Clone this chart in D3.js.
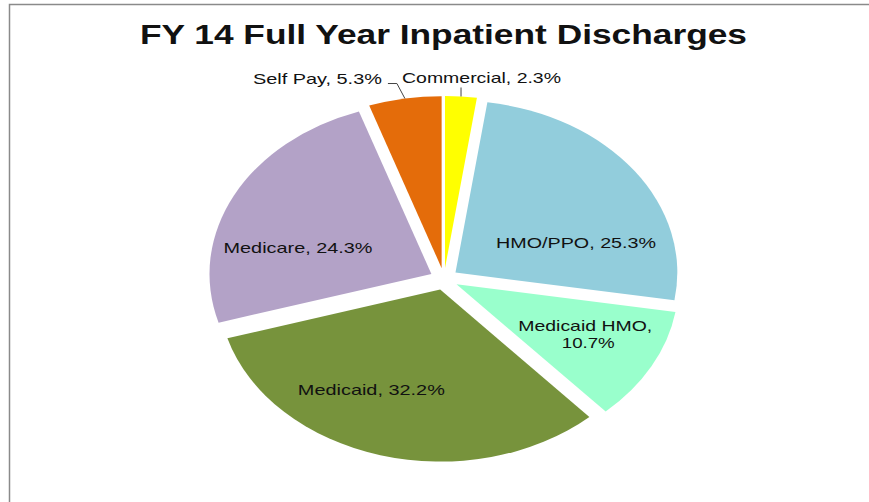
<!DOCTYPE html>
<html>
<head>
<meta charset="utf-8">
<script src="https://cdn.jsdelivr.net/npm/d3@7"></script>
<style>
  body { margin: 0; background: #fff; }
  text { font-family: "Liberation Sans", Arial, sans-serif; fill: #111; }
</style>
</head>
<body>
<svg id="chart" width="869" height="502"></svg>
<script>
// data
var categories = ["Commercial", "HMO/PPO", "Medicaid HMO", "Medicaid", "Medicare", "Self Pay"];
var shares = [2.3, 25.3, 10.7, 32.2, 24.3, 5.3];
var colors = ["#FFFF00", "#92CDDC", "#99FFCC", "#77933C", "#B3A2C7", "#E46C0A"];
var title = "FY 14 Full Year Inpatient Discharges";

// geometry (the picture is a round pie stretched sideways)
var cx = 444, cy = 279, R = 172, sx = 1.29, explode = 11;

// where excel put the labels: inside ones as a fraction of the slice angle / radius
var inside = {
    "HMO/PPO": {t: 0.706, f: 0.57, w: 160},
    "Medicaid HMO": {t: 0.455, f: 0.65, w: 134, w2: 53},
    "Medicaid": {t: 0.607, f: 0.66, w: 147},
    "Medicare": {t: 0.351, f: 0.62, w: 149}
};

var svg = d3.select("#chart");

// frame
svg.append("rect")
    .attr("x", 9.5).attr("y", 4.5)
    .attr("width", 900).attr("height", 600)
    .attr("fill", "none")
    .attr("stroke", "#8a8a8a")
    .attr("stroke-width", 1.5);

svg.append("text")
    .attr("x", 443.5).attr("y", 44)
    .attr("text-anchor", "middle")
    .attr("font-size", "28px")
    .attr("font-weight", "bold")
    .attr("textLength", 607)
    .attr("lengthAdjust", "spacingAndGlyphs")
    .text(title);

var pie = d3.pie().sort(null).value(function(d){ return d; });
var arcs = pie(shares);
arcs.forEach(function(a, i){
    a.name = categories[i];
    var m = (a.startAngle + a.endAngle) / 2;
    a.off = [Math.sin(m) * explode, -Math.cos(m) * explode];
});

var arc = d3.arc().innerRadius(0).outerRadius(R);

function toImg(p){ return [cx + p[0] * sx, cy + p[1]]; }
function polar(ang, r, off){ return [Math.sin(ang) * r + off[0], -Math.cos(ang) * r + off[1]]; }

var pieG = svg.append("g")
    .attr("transform", "translate(" + cx + "," + cy + ") scale(" + sx + ",1)");

pieG.selectAll("path")
    .data(arcs)
    .enter()
    .append("path")
    .attr("transform", function(d){ return "translate(" + d.off[0] + "," + d.off[1] + ")"; })
    .attr("d", arc)
    .attr("fill", function(d, i){ return colors[i]; });

// inside labels
arcs.forEach(function(d){
    var L = inside[d.name];
    if(!L) return;
    var ang = d.startAngle + L.t * (d.endAngle - d.startAngle);
    var p = toImg(polar(ang, L.f * R, d.off));
    var txt = d.name + ", " + d.value + "%";
    if(L.w2){ //two lines
        svg.append("text").attr("x", p[0]).attr("y", p[1] - 8.5).attr("dy", "0.35em")
            .attr("text-anchor", "middle").attr("font-size", "15px")
            .attr("textLength", L.w).attr("lengthAdjust", "spacingAndGlyphs")
            .text(d.name + ",");
        svg.append("text").attr("x", p[0] + 3).attr("y", p[1] + 8.5).attr("dy", "0.35em")
            .attr("text-anchor", "middle").attr("font-size", "15px")
            .attr("textLength", L.w2).attr("lengthAdjust", "spacingAndGlyphs")
            .text(d.value + "%");
    } else {
        svg.append("text").attr("x", p[0]).attr("y", p[1]).attr("dy", "0.35em")
            .attr("text-anchor", "middle").attr("font-size", "15px")
            .attr("textLength", L.w).attr("lengthAdjust", "spacingAndGlyphs")
            .text(txt);
    }
});

// outside labels with leader lines
var selfPay = arcs[categories.indexOf("Self Pay")];
var E1 = toImg(polar((selfPay.startAngle + selfPay.endAngle) / 2, R, selfPay.off));
var k1 = [E1[0] - 8, E1[1] - 15];
svg.append("polyline")
    .attr("points", [E1, k1, [k1[0] - 9, k1[1]]].map(function(p){ return p.join(","); }).join(" "))
    .attr("fill", "none").attr("stroke", "#444").attr("stroke-width", 1);
svg.append("text").attr("x", k1[0] - 15).attr("y", k1[1])
    .attr("text-anchor", "end").attr("font-size", "15px")
    .attr("textLength", 129).attr("lengthAdjust", "spacingAndGlyphs")
    .text(selfPay.name + ", " + selfPay.value + "%");

var comm = arcs[categories.indexOf("Commercial")];
var E2 = toImg(polar((comm.startAngle + comm.endAngle) / 2, R, comm.off));
svg.append("line")
    .attr("x1", E2[0]).attr("y1", E2[1])
    .attr("x2", E2[0]).attr("y2", E2[1] - 9)
    .attr("stroke", "#444").attr("stroke-width", 1);
svg.append("text").attr("x", E2[0] - 59).attr("y", E2[1] - 13)
    .attr("text-anchor", "start").attr("font-size", "15px")
    .attr("textLength", 159).attr("lengthAdjust", "spacingAndGlyphs")
    .text(comm.name + ", " + comm.value + "%");
</script>
</body>
</html>
